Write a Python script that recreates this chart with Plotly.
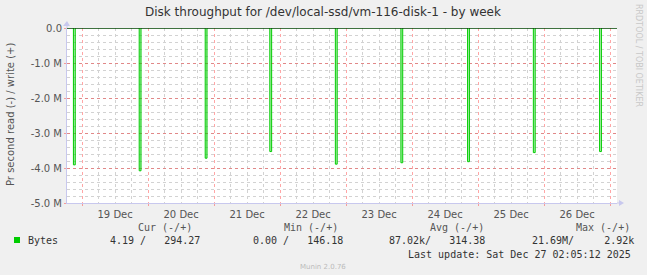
import plotly.graph_objects as go
from datetime import datetime, timedelta

# ---- data ----
spike_times = ["2025-12-18 21:10", "2025-12-19 21:05", "2025-12-20 21:05",
               "2025-12-21 20:35", "2025-12-22 20:25", "2025-12-23 20:15",
               "2025-12-24 20:30", "2025-12-25 20:25", "2025-12-26 20:30"]
spike_read = [3.91e6, 4.08e6, 3.72e6, 3.53e6, 3.89e6, 3.85e6, 3.82e6, 3.56e6, 3.53e6]
x_range = ["2025-12-18 18:30", "2025-12-27 02:30"]
y_tickvals = [0, -1e6, -2e6, -3e6, -4e6, -5e6]
y_ticktext = ["0.0", "-1.0 M", "-2.0 M", "-3.0 M", "-4.0 M", "-5.0 M"]
legend_headers = ["Cur (-/+)", "Min (-/+)", "Avg (-/+)", "Max (-/+)"]
legend_values = ["4.19 /   294.27", "0.00 /   146.18", "87.02k/   314.38", "21.69M/     2.92k"]
series_name = "Bytes"
title = "Disk throughput for /dev/local-ssd/vm-116-disk-1 - by week"
last_update = "Last update: Sat Dec 27 02:05:12 2025"

# ---- build read series (negative) ----
fmt = "%Y-%m-%d %H:%M"
half = timedelta(minutes=20)
xs = [datetime.strptime(x_range[0], fmt)]
ys = [0]
for t, v in zip(spike_times, spike_read):
    tt = datetime.strptime(t, fmt)
    xs += [tt - half, tt - half, tt + half, tt + half]
    ys += [0, -v, -v, 0]
xs.append(datetime.strptime(x_range[1], fmt))
ys.append(0)

W, H = 647, 275
L, R, T, B = 67, 617, 28, 203
def px(x):
    return (x - L) / (R - L)
def py(y):
    return (B - y) / (B - T)

fig = go.Figure()
fig.add_trace(go.Scatter(x=xs, y=ys, mode="lines", name=series_name,
                         line=dict(color="#00CC00", width=1),
                         fill="tozeroy", fillcolor="rgba(0,204,0,0.3)",
                         showlegend=False))

major = "rgba(255,0,0,0.35)"
minor = "#D2D2D2"
axc = "#C8C8EE"
font_sans = "DejaVu Sans"
font_mono = "DejaVu Sans Mono"

fig.update_layout(
    width=W, height=H,
    margin=dict(l=L, r=W - R, t=T, b=H - B, pad=0),
    paper_bgcolor="#F0F0F0", plot_bgcolor="#FFFFFF",
    showlegend=False,
    xaxis=dict(type="date", range=x_range, tick0="2025-12-19", dtick=86400000,
               ticklabelmode="period", tickformat="%d %b",
               showgrid=True, gridcolor=major, griddash="dot", gridwidth=1,
               ticks="outside", ticklen=2, tickcolor=major,
               showline=True, linecolor=axc, linewidth=1,
               tickfont=dict(family=font_sans, size=10, color="#555555"),
               minor=dict(dtick=21600000, tick0="2025-12-19", showgrid=True,
                          gridcolor=minor, griddash="dot", gridwidth=1),
               zeroline=False, fixedrange=True),
    yaxis=dict(range=[-5e6, 0], tickmode="array", tickvals=y_tickvals, ticktext=y_ticktext,
               showgrid=True, gridcolor=major, griddash="dot", gridwidth=1,
               ticks="outside", ticklen=2, tickcolor=major,
               showline=True, linecolor=axc, linewidth=1,
               tickfont=dict(family=font_sans, size=10, color="#555555"),
               minor=dict(tick0=0, dtick=200000, showgrid=True,
                          gridcolor=minor, griddash="dot", gridwidth=1),
               zeroline=False, fixedrange=True),
)

shapes = []
# zero line (black) at top
shapes.append(dict(type="line", xref="x", yref="y", x0=x_range[0], x1=x_range[1], y0=0, y1=0,
                   line=dict(color="black", width=1)))
# axis extensions and arrows
shapes.append(dict(type="line", xref="paper", yref="paper", x0=1, x1=px(620), y0=0, y1=0,
                   line=dict(color=axc, width=1)))
shapes.append(dict(type="path", xref="paper", yref="paper",
                   path=f"M {px(619)} {py(200)} L {px(624)} {py(203)} L {px(619)} {py(206)} Z",
                   fillcolor=axc, line=dict(width=0)))
shapes.append(dict(type="line", xref="paper", yref="paper", x0=0, x1=0, y0=1, y1=py(23),
                   line=dict(color=axc, width=1)))
shapes.append(dict(type="path", xref="paper", yref="paper",
                   path=f"M {px(63)} {py(26)} L {px(67)} {py(21)} L {px(70)} {py(26)} Z",
                   fillcolor=axc, line=dict(width=0)))
# legend swatch
shapes.append(dict(type="rect", xref="paper", yref="paper",
                   x0=px(14), x1=px(20), y0=py(243), y1=py(237),
                   fillcolor="#00CC00", line=dict(width=0)))
fig.update_layout(shapes=shapes)

ann = []
def text(x, y, s, size=10, family=font_mono, color="#333333", xanchor="left", angle=0):
    ann.append(dict(xref="paper", yref="paper", x=px(x), y=py(y), text=s, showarrow=False,
                    xanchor=xanchor, yanchor="middle", textangle=angle,
                    font=dict(family=family, size=size, color=color)))

text(323, 12, title, size=12, family=font_sans, color="#333333", xanchor="center")
text(10, 115, "Pr second read (-) / write (+)", size=10, family=font_sans,
     color="#555555", xanchor="center", angle=-90)
text(638, 55, "RRDTOOL / TOBI OETIKER", size=8, family=font_sans,
     color="#C8C8C8", xanchor="center", angle=90)
for hx, h in zip([136, 282, 428, 574], legend_headers):
    text(hx, 227, h, color="#555555")
text(26, 240, series_name)
for vx, v in zip([108, 251, 387, 530], legend_values):
    text(vx, 240, v)
text(633, 254, last_update, xanchor="right")
text(323, 267, "Munin 2.0.76", size=7, family=font_sans, color="#BBBBBB", xanchor="center")
fig.update_layout(annotations=ann)

fig.write_html("out.html")
